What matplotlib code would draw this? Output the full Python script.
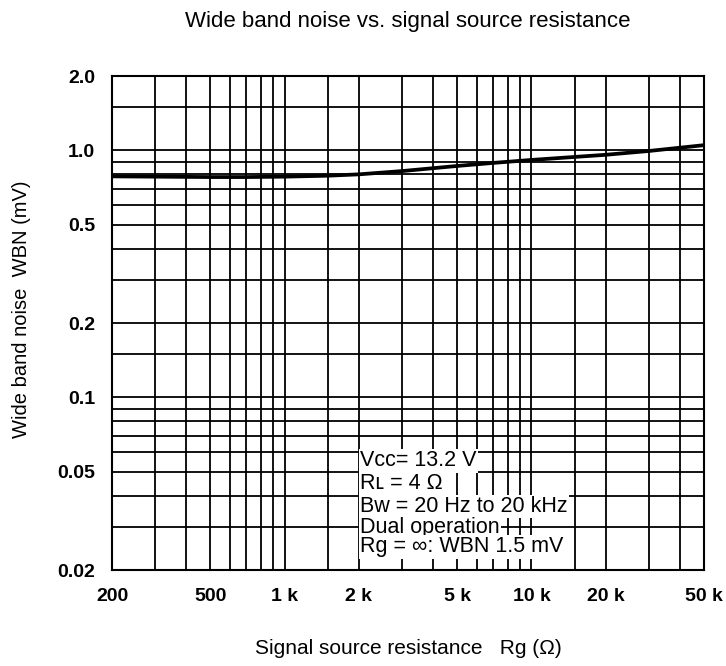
import matplotlib
matplotlib.use("Agg")
import matplotlib.pyplot as plt
from matplotlib.ticker import FixedLocator, NullFormatter

plt.rcParams['font.family'] = ['Liberation Sans', 'DejaVu Sans']

# curve
rg = [200, 300, 500, 700, 1000, 1500, 2000, 3000, 5000, 7000, 10000, 20000, 30000, 50000]
wbn = [0.785, 0.783, 0.78, 0.78, 0.783, 0.79, 0.80, 0.825, 0.865, 0.89, 0.915, 0.96, 0.995, 1.05]

x_ticks = [200, 500, 1000, 2000, 5000, 10000, 20000, 50000]
x_labels = ["200", "500", "1 k", "2 k", "5 k", "10 k", "20 k", "50 k"]
y_ticks = [0.02, 0.05, 0.1, 0.2, 0.5, 1.0, 2.0]
y_labels = ["0.02", "0.05", "0.1", "0.2", "0.5", "1.0", "2.0"]

grid_mult = [1, 1.5, 2, 3, 4, 5, 6, 7, 8, 9]

notes = ["V\u1d04\u1d04= 13.2 V",
         "R\u029f = 4 \u03a9",
         "Bw = 20 Hz to 20 kHz",
         "Dual operation",
         "Rg = \u221e: WBN 1.5 mV"]

x_grid = [m * 10 ** e for e in (2, 3, 4) for m in grid_mult if 200 <= m * 10 ** e <= 50000]
y_grid = [m * 10.0 ** e for e in (-2, -1, 0) for m in grid_mult if 0.02 <= m * 10.0 ** e <= 2.0]

fig = plt.figure(figsize=(7.26, 6.66), dpi=100)
ax = fig.add_axes([0.1543, 0.1441, 0.8154, 0.7417])
ax.set_xscale("log")
ax.set_yscale("log")
ax.set_xlim(200, 50000)
ax.set_ylim(0.02, 2.0)

ax.xaxis.set_major_locator(FixedLocator(x_ticks))
ax.xaxis.set_minor_locator(FixedLocator(x_grid))
ax.yaxis.set_major_locator(FixedLocator(y_ticks))
ax.yaxis.set_minor_locator(FixedLocator(y_grid))
ax.set_xticklabels(x_labels)
ax.set_yticklabels(y_labels)
ax.xaxis.set_minor_formatter(NullFormatter())
ax.yaxis.set_minor_formatter(NullFormatter())
ax.tick_params(which="both", length=0)
ax.tick_params(axis="x", pad=13)
ax.tick_params(axis="y", pad=12)
for t in ax.get_xticklabels() + ax.get_yticklabels():
    t.set_family(["Liberation Sans Narrow", "Liberation Sans"])
    t.set_fontweight("bold")
    t.set_fontsize(14)

ax.grid(which="both", color="black", linewidth=1.3)
for s in ax.spines.values():
    s.set_linewidth(1.5)

ax.plot(rg, wbn, color="black", linewidth=2.7, solid_capstyle="butt", zorder=3)

# condition block, each line on its own white patch
ys = [0.221, 0.175, 0.129, 0.087, 0.047]
for txt, yy in zip(notes, ys):
    ax.text(0.419, yy, txt, transform=ax.transAxes, fontsize=15.5, va="center", ha="left",
            bbox=dict(facecolor="white", edgecolor="none", pad=1.0), zorder=4)

fig.text(0.562, 0.968, "Wide band noise vs. signal source resistance", fontsize=16,
         ha="center", va="center")
fig.text(0.562, 0.027, "Signal source resistance   Rg (\u03a9)", fontsize=15,
         ha="center", va="center")
fig.text(0.030, 0.535, "Wide band noise  WBN (mV)", fontsize=14.5, rotation=90,
         ha="center", va="center")

fig.savefig("out.png", dpi=100)
